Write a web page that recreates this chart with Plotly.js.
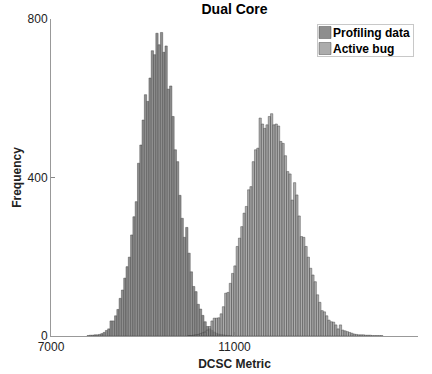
<!DOCTYPE html>
<html>
<head>
<meta charset="utf-8">
<script src="https://cdn.plot.ly/plotly-3.0.1.min.js"></script>
<style>html,body{margin:0;padding:0;background:#fff;}#chart{width:432px;height:374px;}</style>
</head>
<body>
<div id="chart"></div>
<script>
// Histogram bins (DCSC Metric), width 50
const binWidth = 50;
const profilingStart = 7810;   // center of first bin of "Profiling data"
const activeStart = 10010;     // center of first bin of "Active bug"

const profilingCounts = [1,2,2,3,3,4,6,9,14,18,38,38,51,67,95,116,146,175,199,255,301,339,436,482,545,
  609,592,651,720,710,764,735,766,716,732,623,631,554,470,440,355,297,249,274,209,162,125,112,80,68,52,36,24,18,14,10,7,5,4,3,2,1,1];

const activeCounts = [1,1,2,3,4,6,8,10,15,24,38,45,45,46,56,74,108,110,133,158,177,226,247,276,310,327,369,377,
  440,470,474,550,535,524,533,554,561,533,535,530,491,486,455,415,409,343,387,356,303,251,249,226,199,171,154,137,
  104,85,64,61,51,40,36,35,28,18,28,15,13,11,9,7,5,4,3,3,3,2,2,2,1,1,1,1,1];

const seriesNames = ['Profiling data', 'Active bug'];
const xTicks = [7000, 11000, 15000];
const yTicks = [0, 400, 800];

function centers(start, n) { const a = []; for (let i = 0; i < n; i++) a.push(start + i * binWidth); return a; }

const traces = [
  {
    type: 'bar', name: seriesNames[0],
    x: centers(profilingStart, profilingCounts.length), y: profilingCounts,
    width: binWidth,
    marker: {color: '#8e8e8e', line: {color: 'rgba(60,60,60,0.85)', width: 0.5}}
  },
  {
    type: 'bar', name: seriesNames[1],
    x: centers(activeStart, activeCounts.length), y: activeCounts,
    width: binWidth,
    marker: {color: 'rgba(140,140,140,0.72)', line: {color: 'rgba(60,60,60,0.85)', width: 0.5}}
  }
];

const font = {family: 'Liberation Sans, Arial, sans-serif', color: '#222'};
const bold = Object.assign({}, font, {weight: 'bold'});

const layout = {
  width: 432, height: 374,
  margin: {l: 51, r: 14, t: 19, b: 38},
  paper_bgcolor: '#fff', plot_bgcolor: '#fff',
  barmode: 'overlay', bargap: 0,
  font: Object.assign({size: 12}, font),
  title: {text: '<b>Dual Core</b>', font: Object.assign({size: 14}, font, {color: '#000'}),
          x: 0.5429, xanchor: 'center', y: 0.975, yanchor: 'middle'},
  xaxis: {
    range: [7000, 15000], tickvals: xTicks, ticktext: xTicks.map(String),
    ticks: 'inside', ticklen: 4, tickcolor: '#888', showline: true, linecolor: '#999', linewidth: 1,
    showgrid: false, zeroline: false, tickfont: Object.assign({size: 12}, font),
    title: {text: '<b>DCSC Metric</b>', font: Object.assign({size: 12}, font), standoff: 6}
  },
  yaxis: {
    range: [0, 800], tickvals: yTicks, ticktext: yTicks.map(String),
    ticks: 'inside', ticklen: 4, tickcolor: '#888', showline: true, linecolor: '#999', linewidth: 1,
    showgrid: false, zeroline: false, tickfont: Object.assign({size: 12}, font),
    title: {text: '<b>Frequency</b>', font: Object.assign({size: 12}, font), standoff: 3}
  },
  legend: {
    x: 0.988, xanchor: 'right', y: 0.985, yanchor: 'top',
    bgcolor: '#fff', bordercolor: '#c8c8c8', borderwidth: 1,
    font: Object.assign({size: 12}, bold, {color: '#000'}),
    tracegroupgap: 0, itemwidth: 30
  },
  showlegend: true
};

Plotly.newPlot('chart', traces, layout, {staticPlot: true, displayModeBar: false}).then(function (gd) {
  // Compact the legend to match the reference: swatch flush left, tight rows
  try {
    const leg = gd.querySelector('g.legend');
    if (!leg) return;
    const items = leg.querySelectorAll('g.traces');
    let maxW = 0;
    items.forEach(function (g, i) {
      g.setAttribute('transform', 'translate(0,' + (8.5 + 16 * i) + ')');
      const layers = g.querySelector('g.layers');
      if (layers) {
        const bb = layers.getBBox();
        const dx = 2 - bb.x;
        layers.setAttribute('transform', 'translate(' + dx + ',0)');
      }
      const t = g.querySelector('text.legendtext');
      if (t) {
        t.setAttribute('x', 16);
        maxW = Math.max(maxW, 16 + t.getComputedTextLength());
      }
    });
    const w = Math.ceil(maxW + 3), h = 32;
    const bg = leg.querySelector('rect.bg');
    if (bg) { bg.setAttribute('width', w); bg.setAttribute('height', h); bg.setAttribute('x', 0); bg.setAttribute('y', 0); }
    leg.querySelectorAll('clipPath rect, rect.scrollbox-clip').forEach(function (r) { r.setAttribute('width', w + 10); r.setAttribute('height', h + 10); });
    const sb = leg.querySelector('g.scrollbox');
    if (sb) sb.setAttribute('transform', 'translate(0,0)');
    leg.setAttribute('transform', 'translate(' + (413 - w) + ',24)');
  } catch (e) {}
});
</script>
</body>
</html>
